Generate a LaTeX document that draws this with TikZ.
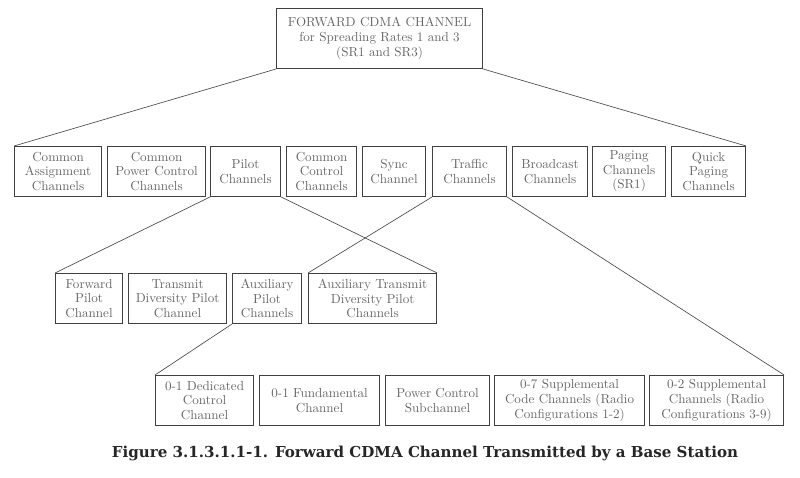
\documentclass[tikz,border=0pt]{standalone}
\usepackage{fontspec}
\newfontfamily\capfont{DejaVu Serif}
\begin{document}
\begin{tikzpicture}[x=0.75pt,y=-0.75pt,
  box/.style={draw=black!75,line width=0.6pt,anchor=north west,inner sep=0.5pt,align=center,
    text=black!60,font=\fontsize{9.8}{11}\selectfont},
  ln/.style={draw=black!70,line width=0.5pt}]
\useasboundingbox (0,0) rectangle (800,478);
\newcommand{\bx}[6]{\node[box,minimum width=#4*0.75pt-0.6pt,minimum height=#5*0.75pt-0.6pt,text width=#4*0.75pt-1.5pt] (#1) at (#2,#3) {#6};}
\bx{top}{276}{8}{207}{61}{FORWARD CDMA CHANNEL\\for Spreading Rates 1 and 3\\(SR1 and SR3)}
\bx{ca}{14}{146}{88}{51}{Common\\Assignment\\Channels}
\bx{cp}{107}{146}{99}{51}{Common\\Power Control\\Channels}
\bx{pi}{210}{146}{71}{51}{Pilot\\Channels}
\bx{cc}{286}{146}{71}{51}{Common\\Control\\Channels}
\bx{sy}{362}{146}{64}{51}{Sync\\Channel}
\bx{tr}{432}{146}{75}{51}{Traffic\\Channels}
\bx{br}{512}{146}{76}{51}{Broadcast\\Channels}
\bx{pg}{592}{146}{74}{51}{Paging\\Channels\\(SR1)}
\bx{qp}{671}{146}{75}{51}{Quick\\Paging\\Channels}
\bx{fp}{55}{273}{68}{51}{Forward\\Pilot\\Channel}
\bx{td}{128}{273}{99}{51}{Transmit\\Diversity Pilot\\Channel}
\bx{ap}{232}{273}{70}{51}{Auxiliary\\Pilot\\Channels}
\bx{at}{308}{273}{129}{51}{Auxiliary Transmit\\Diversity Pilot\\Channels}
\bx{dc}{155}{375}{99}{51}{0-1 Dedicated\\Control\\Channel}
\bx{fu}{259}{375}{121}{51}{0-1 Fundamental\\Channel}
\bx{pc}{385}{375}{105}{51}{Power Control\\Subchannel}
\bx{s7}{494}{375}{151}{51}{0-7 Supplemental\\Code Channels (Radio\\Configurations 1-2)}
\bx{s2}{649}{375}{135}{51}{0-2 Supplemental\\Channels (Radio\\Configurations 3-9)}
\draw[ln] (top.south west) -- (ca.north west);
\draw[ln] (top.south east) -- (qp.north east);
\draw[ln] (pi.south west) -- (fp.north west);
\draw[ln] (pi.south east) -- (at.north east);
\draw[ln] (tr.south west) -- (at.north west);
\draw[ln] (tr.south east) -- (s2.north east);
\draw[ln] (ap.south west) -- (dc.north west);
\node[font=\capfont\bfseries\fontsize{11.3}{13}\selectfont,text=black!85] (cap) at (425,453) {Figure 3.1.3.1.1-1. Forward CDMA Channel Transmitted by a Base Station};
\end{tikzpicture}
\end{document}
